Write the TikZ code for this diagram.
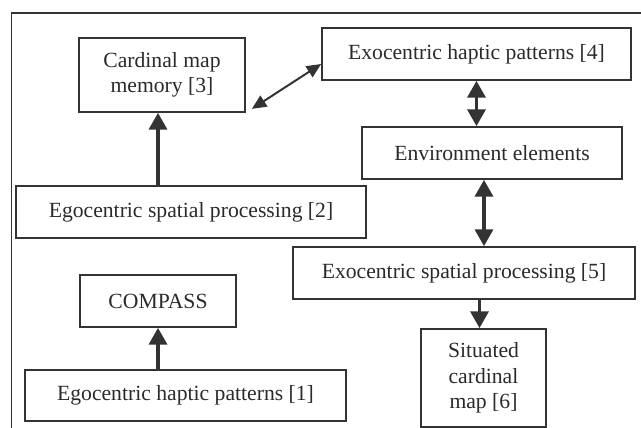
\documentclass[tikz,border=0pt]{standalone}
\usepackage{fontspec}
\setmainfont{Liberation Serif}
\usepackage{xcolor}
\definecolor{mainDark}{HTML}{333333}
\definecolor{textDark}{HTML}{2A2A2A}
\usepackage{tikz}
\usetikzlibrary{arrows.meta,calc}
\tikzset{
  stageBox/.style={
    rectangle,
    draw=mainDark,
    line width=1.2pt,
    text=textDark,
    inner sep=0pt,
    align=center,
    minimum height=1.3cm
 },
  thickArrow/.style={
    {Triangle[length=0.42cm,width=0.45cm]}-{Triangle[length=0.42cm,width=0.45cm]},
    line width=2.4pt,
    color=mainDark
 },
  upArrow/.style={
    -{Triangle[length=0.42cm,width=0.45cm]},
    line width=2.4pt,
    color=mainDark
 },
  thinArrow/.style={
    {Triangle[length=0.36cm,width=0.32cm]}-{Triangle[length=0.36cm,width=0.32cm]},
    line width=1.4pt,
    color=mainDark
 }
}

\begin{document}
\begin{tikzpicture}[x=0.025cm,y=-0.025cm,font=\fontsize{15.4}{18.2}\selectfont]
            \useasboundingbox (0,0) rectangle (641,428);
            % frame (top and left only)
            \draw[mainDark, line width=1.1pt] (641,13) -- (11.7,13) -- (11.7,428);

            % left column
            \node[stageBox, minimum width=4.15cm, minimum height=1.85cm] (cmap) at (162,75) {Cardinal map\\memory [3]};
            \node[stageBox, minimum width=8.75cm] (egospat) at (191,212) {Egocentric spatial processing [2]};
            \node[stageBox, minimum width=3.9cm] (compass) at (158,301) {COMPASS};
            \node[stageBox, minimum width=8.025cm, minimum height=1.275cm] (egohap) at (185.5,395.5) {Egocentric haptic patterns [1]};

            % right column
            \node[stageBox, minimum width=7.725cm] (exohap) at (476.5,54) {Exocentric haptic patterns [4]};
            \node[stageBox, minimum width=6.5cm] (env) at (492,153) {Environment elements};
            \node[stageBox, minimum width=8.55cm] (exospat) at (464,273) {Exocentric spatial processing [5]};
            \node[stageBox, minimum width=3.125cm, minimum height=2.45cm] (sitmap) at (483.5,378) {Situated\\cardinal\\map [6]};

            \draw[upArrow] ([xshift=-0.1cm]egospat.north -| cmap.south) -- ([xshift=-0.1cm]cmap.south);
            \draw[upArrow] (egohap.north -| compass.south) -- (compass.south);
            \draw[thinArrow] ([xshift=0.15cm,yshift=0.1cm]cmap.south east) -- ([yshift=-0.25cm]exohap.west);

            \draw[thickArrow] (exohap.south) -- (exohap.south |- env.north);
            \draw[thickArrow] ([xshift=-0.2cm]env.south) -- ([xshift=-0.2cm]env.south |- exospat.north);
            \draw[upArrow] ([xshift=-0.1cm]sitmap.north |- exospat.south) -- ([xshift=-0.1cm]sitmap.north);
        \end{tikzpicture}
\end{document}
